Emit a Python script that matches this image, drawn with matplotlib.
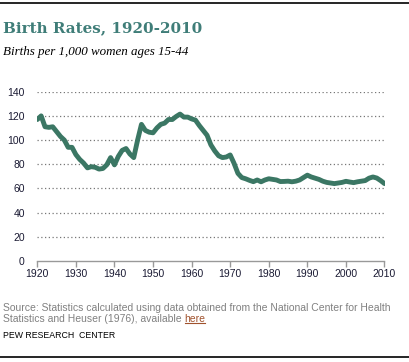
import matplotlib
matplotlib.use("Agg")
import matplotlib.pyplot as plt
from matplotlib.lines import Line2D

years = list(range(1920, 2011))
rates = [117, 120, 111, 110.5, 111, 107, 103, 100, 94, 94,
         88, 84, 81, 77, 78, 77.5, 76, 76.5, 79.5, 85.5,
         79.5, 86.5, 91.5, 93, 88.5, 85.5, 100, 113, 108, 106.5,
         106, 110, 113, 114, 117, 117, 119.5, 121.5, 119, 119,
         117.5, 116.5, 112, 108, 104, 96, 91, 87, 85.5, 86,
         87.7, 80.8, 72.5, 69, 68, 66.7, 65.6, 67, 65.5, 67,
         68, 67.5, 67, 65.7, 65.8, 66, 65.5, 66, 67, 69,
         71, 69.5, 68.5, 67.5, 66, 65, 64.5, 64, 64.5, 65,
         65.9, 65.3, 64.8, 65.5, 66, 66.5, 68.5, 69.5, 68.6, 66.5,
         64]
xticks = list(range(1920, 2011, 10))
yticks = list(range(0, 141, 20))

title = "Birth Rates, 1920-2010"
subtitle = "Births per 1,000 women ages 15-44"
source1 = "Source: Statistics calculated using data obtained from the National Center for Health"
source2 = "Statistics and Heuser (1976), available "
link = "here"
credit = "PEW RESEARCH  CENTER"

W, H = 409, 362
fig = plt.figure(figsize=(W / 100, H / 100), dpi=100)

def fx(px):
    return px / W

def fy(py):
    return 1 - py / H

ax = fig.add_axes([fx(37.3), fy(261), fx(384.5) - fx(37.3), fy(91.7) - fy(261)])
ax.plot(years, rates, color="#3b7764", lw=3.5, solid_capstyle="round", solid_joinstyle="round", zorder=3)
ax.set_xlim(1920, 2010)
ax.set_ylim(0, 140)
ax.set_xticks(xticks)
ax.set_yticks(yticks)
ax.set_xticklabels([str(t) for t in xticks])
ax.set_yticklabels([str(t) for t in yticks])
for t in yticks[1:]:
    ax.axhline(t, color="#777777", lw=0.9, ls=(0, (1, 2)), zorder=1)
for s in ["top", "right", "left"]:
    ax.spines[s].set_visible(False)
ax.spines["bottom"].set_color("#999999")
ax.spines["bottom"].set_linewidth(1.0)
ax.tick_params(axis="x", length=4, width=1.0, color="#999999", pad=2,
               labelsize=7.5, labelcolor="#1a1a33")
ax.tick_params(axis="y", length=0, pad=9, labelsize=7.5, labelcolor="#1a1a33")
for lab in ax.get_xticklabels() + ax.get_yticklabels():
    lab.set_family("Liberation Sans")
ax.set_clip_on(False)

# top and bottom rules
fig.add_artist(Line2D([0, 1], [fy(3), fy(3)], color="black", lw=1.2, transform=fig.transFigure))
fig.add_artist(Line2D([0, 1], [fy(357), fy(357)], color="black", lw=1.2, transform=fig.transFigure))

fig.text(fx(3), fy(32), title, fontsize=10.9, fontweight="bold", color="#3f7d78",
         family="DejaVu Serif", va="baseline", ha="left")
fig.text(fx(3), fy(55), subtitle, fontsize=9.4, style="italic", color="black",
         family="Liberation Serif", va="baseline", ha="left")

fs = 7.5
t1 = fig.text(fx(3), fy(311), source1, fontsize=fs, color="#808080",
              family="Liberation Sans", va="baseline", ha="left")
t2 = fig.text(fx(3), fy(321.5), source2, fontsize=fs, color="#808080",
              family="Liberation Sans", va="baseline", ha="left")
fig.canvas.draw()
r = fig.canvas.get_renderer()
bb = t2.get_window_extent(r)
x_link = bb.x1 / W
t3 = fig.text(x_link, fy(321.5), link, fontsize=fs, color="#a0522d",
              family="Liberation Sans", va="baseline", ha="left")
bb3 = t3.get_window_extent(r)
uy = fy(323)
fig.add_artist(Line2D([bb3.x0 / W, (bb3.x1 - 1) / W], [uy, uy], color="#a0522d", lw=0.8,
                      transform=fig.transFigure))
fig.text(fx(3), fy(338), credit, fontsize=6.3, color="black",
         family="Liberation Sans", va="baseline", ha="left")

fig.savefig("out.png", dpi=100)
